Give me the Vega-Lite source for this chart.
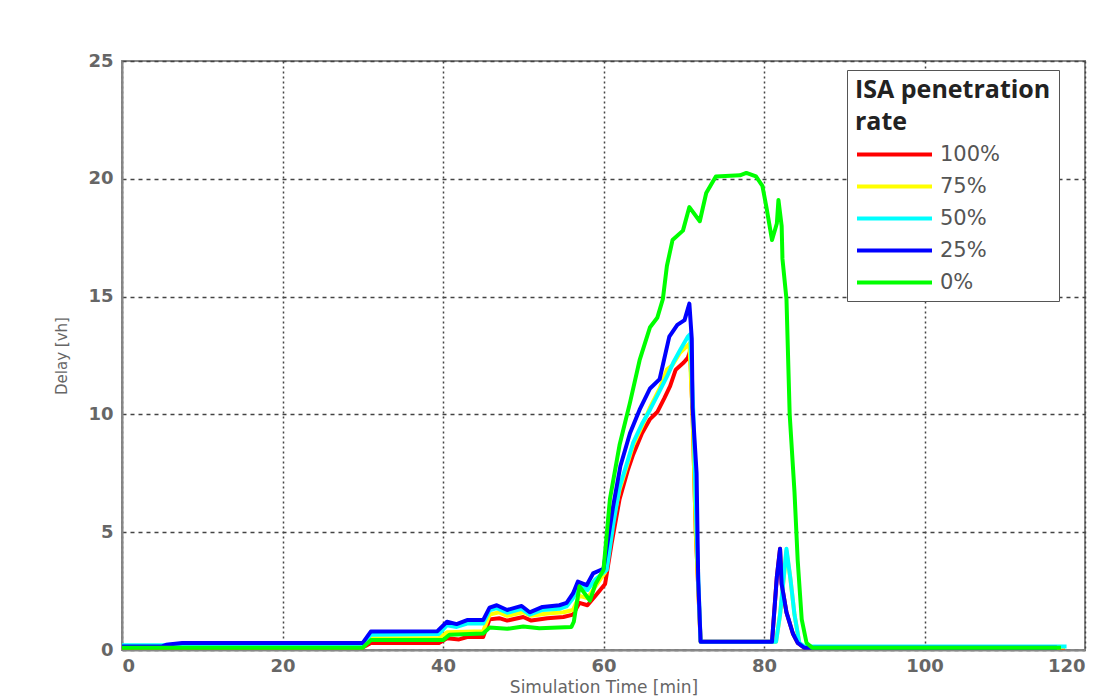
{
 "$schema": "https://vega.github.io/schema/vega-lite/v6.json",
 "width": 963, "height": 589,
 "autosize": {"type": "none"},
 "padding": {"left": 122, "top": 61, "right": 18, "bottom": 47},
 "background": "white",
 "config": {"view": {"stroke": "#888", "strokeWidth": 2}},
 "datasets": {
  "pts": [
   {"t":0,"d":0.1,"s":"100%"},{"t":30,"d":0.1,"s":"100%"},{"t":31,"d":0.3,"s":"100%"},{"t":39.5,"d":0.3,"s":"100%"},{"t":40.5,"d":0.5,"s":"100%"},{"t":42,"d":0.45,"s":"100%"},{"t":43,"d":0.55,"s":"100%"},{"t":45,"d":0.55,"s":"100%"},{"t":45.8,"d":1.3,"s":"100%"},{"t":47,"d":1.35,"s":"100%"},{"t":48,"d":1.25,"s":"100%"},{"t":50,"d":1.4,"s":"100%"},{"t":51,"d":1.25,"s":"100%"},{"t":53,"d":1.35,"s":"100%"},{"t":55,"d":1.4,"s":"100%"},{"t":56.2,"d":1.5,"s":"100%"},{"t":57,"d":2.0,"s":"100%"},{"t":58,"d":1.9,"s":"100%"},{"t":59,"d":2.3,"s":"100%"},{"t":60.2,"d":2.8,"s":"100%"},{"t":61,"d":4.5,"s":"100%"},{"t":62,"d":6.4,"s":"100%"},{"t":63,"d":7.6,"s":"100%"},{"t":63.7,"d":8.3,"s":"100%"},{"t":64.8,"d":9.2,"s":"100%"},{"t":65.8,"d":9.8,"s":"100%"},{"t":66.7,"d":10.1,"s":"100%"},{"t":67.6,"d":10.7,"s":"100%"},{"t":68.3,"d":11.2,"s":"100%"},{"t":69,"d":11.9,"s":"100%"},{"t":70,"d":12.2,"s":"100%"},{"t":70.5,"d":12.4,"s":"100%"},{"t":70.8,"d":12.7,"s":"100%"},{"t":71.1,"d":10,"s":"100%"},{"t":71.5,"d":5,"s":"100%"},{"t":72.1,"d":0.35,"s":"100%"},{"t":81,"d":0.35,"s":"100%"},{"t":81.6,"d":3.1,"s":"100%"},{"t":82,"d":4.3,"s":"100%"},{"t":82.2,"d":2.8,"s":"100%"},{"t":82.8,"d":1.6,"s":"100%"},{"t":83.6,"d":0.7,"s":"100%"},{"t":84.2,"d":0.3,"s":"100%"},{"t":85,"d":0.1,"s":"100%"},{"t":117.5,"d":0.1,"s":"100%"},

   {"t":0,"d":0.12,"s":"75%"},{"t":30,"d":0.12,"s":"75%"},{"t":31,"d":0.5,"s":"75%"},{"t":39.5,"d":0.5,"s":"75%"},{"t":40.5,"d":0.75,"s":"75%"},{"t":45,"d":0.8,"s":"75%"},{"t":45.8,"d":1.5,"s":"75%"},{"t":47,"d":1.6,"s":"75%"},{"t":48,"d":1.45,"s":"75%"},{"t":50,"d":1.6,"s":"75%"},{"t":51,"d":1.45,"s":"75%"},{"t":53,"d":1.55,"s":"75%"},{"t":55,"d":1.6,"s":"75%"},{"t":56.2,"d":1.7,"s":"75%"},{"t":57,"d":2.3,"s":"75%"},{"t":58,"d":2.2,"s":"75%"},{"t":59,"d":2.7,"s":"75%"},{"t":60.2,"d":3.3,"s":"75%"},{"t":61,"d":5.2,"s":"75%"},{"t":62,"d":6.8,"s":"75%"},{"t":63.7,"d":8.7,"s":"75%"},{"t":64.8,"d":9.5,"s":"75%"},{"t":65.8,"d":10.3,"s":"75%"},{"t":67,"d":11.1,"s":"75%"},{"t":67.9,"d":11.9,"s":"75%"},{"t":68.6,"d":12.1,"s":"75%"},{"t":69.5,"d":12.6,"s":"75%"},{"t":70.7,"d":13.0,"s":"75%"},{"t":71.1,"d":10,"s":"75%"},{"t":71.5,"d":5,"s":"75%"},{"t":72.1,"d":0.35,"s":"75%"},{"t":81.5,"d":0.35,"s":"75%"},{"t":82,"d":1.5,"s":"75%"},{"t":82.8,"d":4.2,"s":"75%"},{"t":83.3,"d":3,"s":"75%"},{"t":83.8,"d":1.5,"s":"75%"},{"t":84.4,"d":0.3,"s":"75%"},{"t":85,"d":0.12,"s":"75%"},{"t":117.5,"d":0.12,"s":"75%"},

   {"t":0,"d":0.2,"s":"50%"},{"t":5,"d":0.2,"s":"50%"},{"t":7.5,"d":0.25,"s":"50%"},{"t":30,"d":0.25,"s":"50%"},{"t":31,"d":0.65,"s":"50%"},{"t":39.5,"d":0.68,"s":"50%"},{"t":40.5,"d":1.05,"s":"50%"},{"t":41.7,"d":0.98,"s":"50%"},{"t":43,"d":1.12,"s":"50%"},{"t":45,"d":1.12,"s":"50%"},{"t":45.8,"d":1.68,"s":"50%"},{"t":46.7,"d":1.78,"s":"50%"},{"t":48,"d":1.58,"s":"50%"},{"t":49.8,"d":1.75,"s":"50%"},{"t":50.8,"d":1.5,"s":"50%"},{"t":52.4,"d":1.7,"s":"50%"},{"t":54.5,"d":1.75,"s":"50%"},{"t":55.4,"d":1.85,"s":"50%"},{"t":56.2,"d":2.2,"s":"50%"},{"t":57,"d":2.75,"s":"50%"},{"t":58,"d":2.55,"s":"50%"},{"t":59,"d":3.0,"s":"50%"},{"t":60.4,"d":3.4,"s":"50%"},{"t":61.2,"d":5.3,"s":"50%"},{"t":62,"d":6.9,"s":"50%"},{"t":63.7,"d":8.8,"s":"50%"},{"t":64.8,"d":9.6,"s":"50%"},{"t":65.8,"d":10.2,"s":"50%"},{"t":67,"d":11.0,"s":"50%"},{"t":67.9,"d":11.6,"s":"50%"},{"t":68.7,"d":12.2,"s":"50%"},{"t":69.5,"d":12.7,"s":"50%"},{"t":70.5,"d":13.3,"s":"50%"},{"t":70.8,"d":13.4,"s":"50%"},{"t":71.2,"d":10,"s":"50%"},{"t":71.6,"d":5,"s":"50%"},{"t":72.1,"d":0.35,"s":"50%"},{"t":81.5,"d":0.35,"s":"50%"},{"t":82,"d":1.5,"s":"50%"},{"t":82.8,"d":4.3,"s":"50%"},{"t":83.3,"d":3,"s":"50%"},{"t":83.8,"d":1.5,"s":"50%"},{"t":84.4,"d":0.3,"s":"50%"},{"t":85,"d":0.15,"s":"50%"},{"t":117.7,"d":0.15,"s":"50%"},

   {"t":0,"d":0.15,"s":"25%"},{"t":5,"d":0.15,"s":"25%"},{"t":5.5,"d":0.22,"s":"25%"},{"t":7.5,"d":0.3,"s":"25%"},{"t":30,"d":0.3,"s":"25%"},{"t":31,"d":0.78,"s":"25%"},{"t":39.3,"d":0.8,"s":"25%"},{"t":40.5,"d":1.2,"s":"25%"},{"t":41.7,"d":1.1,"s":"25%"},{"t":43,"d":1.27,"s":"25%"},{"t":45,"d":1.27,"s":"25%"},{"t":45.8,"d":1.8,"s":"25%"},{"t":46.7,"d":1.9,"s":"25%"},{"t":48,"d":1.7,"s":"25%"},{"t":49.8,"d":1.87,"s":"25%"},{"t":50.8,"d":1.6,"s":"25%"},{"t":52.4,"d":1.83,"s":"25%"},{"t":54.5,"d":1.9,"s":"25%"},{"t":55.4,"d":2.0,"s":"25%"},{"t":56.2,"d":2.4,"s":"25%"},{"t":56.8,"d":2.9,"s":"25%"},{"t":57.9,"d":2.75,"s":"25%"},{"t":58.7,"d":3.25,"s":"25%"},{"t":60,"d":3.45,"s":"25%"},{"t":61.2,"d":6.1,"s":"25%"},{"t":62.1,"d":7.8,"s":"25%"},{"t":63.3,"d":9.2,"s":"25%"},{"t":64.5,"d":10.2,"s":"25%"},{"t":65.8,"d":11.1,"s":"25%"},{"t":67,"d":11.5,"s":"25%"},{"t":68.2,"d":13.3,"s":"25%"},{"t":69.2,"d":13.8,"s":"25%"},{"t":70.1,"d":14.0,"s":"25%"},{"t":70.7,"d":14.7,"s":"25%"},{"t":71,"d":13.2,"s":"25%"},{"t":71.1,"d":10.3,"s":"25%"},{"t":71.6,"d":7.5,"s":"25%"},{"t":71.8,"d":3,"s":"25%"},{"t":72.1,"d":0.35,"s":"25%"},{"t":81,"d":0.35,"s":"25%"},{"t":81.6,"d":3.1,"s":"25%"},{"t":82,"d":4.3,"s":"25%"},{"t":82.2,"d":2.8,"s":"25%"},{"t":82.8,"d":1.6,"s":"25%"},{"t":83.6,"d":0.7,"s":"25%"},{"t":84.2,"d":0.3,"s":"25%"},{"t":85,"d":0.1,"s":"25%"},{"t":116.5,"d":0.1,"s":"25%"},

   {"t":0,"d":0.1,"s":"0%"},{"t":30,"d":0.1,"s":"0%"},{"t":31,"d":0.42,"s":"0%"},{"t":40,"d":0.42,"s":"0%"},{"t":40.8,"d":0.65,"s":"0%"},{"t":45,"d":0.7,"s":"0%"},{"t":45.8,"d":0.95,"s":"0%"},{"t":48,"d":0.9,"s":"0%"},{"t":50,"d":1.0,"s":"0%"},{"t":52,"d":0.92,"s":"0%"},{"t":56,"d":0.98,"s":"0%"},{"t":56.3,"d":1.2,"s":"0%"},{"t":57,"d":2.7,"s":"0%"},{"t":58.3,"d":2.1,"s":"0%"},{"t":59,"d":2.8,"s":"0%"},{"t":59.5,"d":3.1,"s":"0%"},{"t":60,"d":3.4,"s":"0%"},{"t":60.8,"d":6.4,"s":"0%"},{"t":62,"d":8.7,"s":"0%"},{"t":63.3,"d":10.5,"s":"0%"},{"t":64.5,"d":12.3,"s":"0%"},{"t":65.8,"d":13.7,"s":"0%"},{"t":66.7,"d":14.1,"s":"0%"},{"t":67.4,"d":14.9,"s":"0%"},{"t":67.9,"d":16.3,"s":"0%"},{"t":68.6,"d":17.4,"s":"0%"},{"t":69.9,"d":17.8,"s":"0%"},{"t":70.7,"d":18.8,"s":"0%"},{"t":72,"d":18.2,"s":"0%"},{"t":72.8,"d":19.4,"s":"0%"},{"t":74,"d":20.1,"s":"0%"},{"t":77,"d":20.15,"s":"0%"},{"t":77.8,"d":20.25,"s":"0%"},{"t":79,"d":20.1,"s":"0%"},{"t":79.8,"d":19.7,"s":"0%"},{"t":80.3,"d":18.8,"s":"0%"},{"t":81,"d":17.4,"s":"0%"},{"t":81.6,"d":18.1,"s":"0%"},{"t":81.8,"d":19.1,"s":"0%"},{"t":82.2,"d":18.0,"s":"0%"},{"t":82.3,"d":16.6,"s":"0%"},{"t":82.8,"d":14.9,"s":"0%"},{"t":83.2,"d":10,"s":"0%"},{"t":83.8,"d":6.7,"s":"0%"},{"t":84.2,"d":3.8,"s":"0%"},{"t":84.7,"d":1.3,"s":"0%"},{"t":85.3,"d":0.3,"s":"0%"},{"t":86,"d":0.1,"s":"0%"},{"t":117,"d":0.1,"s":"0%"}
  ]
 },
 "data": {"name": "pts"},
 "mark": {"type": "line", "strokeWidth": 4, "strokeJoin": "round", "clip": true},
 "encoding": {
  "x": {"field": "t", "type": "quantitative",
   "scale": {"domain": [0, 120], "nice": false, "zero": false},
   "axis": {"values": [0, 20, 40, 60, 80, 100, 120], "title": "Simulation Time [min]",
    "grid": true, "gridColor": "#444", "gridDash": [2, 3], "gridWidth": 1.5,
    "domainColor": "#888", "domainWidth": 2, "ticks": false,
    "labelPadding": 7, "labelFont": "DejaVu Sans", "labelFontSize": 18, "labelFontWeight": "bold", "labelColor": "#666",
    "titleFont": "DejaVu Sans", "titleFontSize": 17, "titleFontWeight": "normal", "titleColor": "#666",
    "titleY": 42, "titleBaseline": "alphabetic"}},
  "y": {"field": "d", "type": "quantitative",
   "scale": {"domain": [0, 25], "nice": false},
   "axis": {"values": [0, 5, 10, 15, 20, 25], "title": "Delay [vh]",
    "grid": true, "gridColor": "#444", "gridDash": [4, 4], "gridWidth": 1.5,
    "domainColor": "#888", "domainWidth": 2, "ticks": false,
    "labelPadding": 9, "labelFont": "DejaVu Sans", "labelFontSize": 18, "labelFontWeight": "bold", "labelColor": "#666",
    "titleFont": "DejaVu Sans", "titleFontSize": 15, "titleFontWeight": "normal", "titleColor": "#666", "titlePadding": 18}},
  "color": {"field": "s", "type": "nominal",
   "scale": {"domain": ["100%", "75%", "50%", "25%", "0%"], "range": ["#ff0000", "#ffff00", "#00ffff", "#0000ff", "#00ff00"]},
   "legend": {"orient": "none", "legendX": 725, "legendY": 9,
    "title": ["ISA penetration", "rate"], "titleLimit": 400,
    "titleFont": "Open Sans", "titleFontSize": 25, "titleFontWeight": "bold", "titleColor": "#222", "titleLineHeight": 32,
    "labelFont": "DejaVu Sans", "labelFontSize": 21, "labelColor": "#555",
    "symbolType": "M-1,0H5", "symbolSize": 625, "symbolStrokeWidth": 4, "labelOffset": 56,
    "strokeColor": "#555", "fillColor": "white", "padding": 8, "rowPadding": 7}}
 }
}
